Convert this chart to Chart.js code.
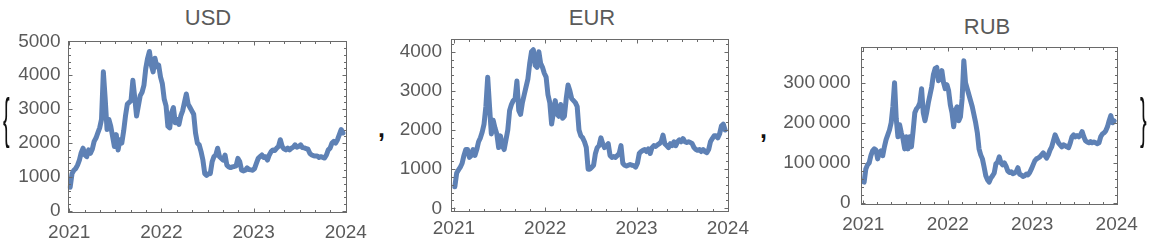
<!DOCTYPE html>
<html><head><meta charset="utf-8">
<script src="https://cdn.jsdelivr.net/npm/chart.js@4.4.1/dist/chart.umd.min.js"></script>
<style>
html,body{margin:0;padding:0;background:#fff;}
body{width:1156px;height:252px;overflow:hidden;position:relative;font-family:"Liberation Sans",Arial,sans-serif;}
canvas{position:absolute;top:0;}
.title{position:absolute;font-size:22px;color:#5a5a5a;transform:translate(-50%,-50%);white-space:nowrap;line-height:1;}
.sym{position:absolute;line-height:1;white-space:nowrap;color:#111;transform-origin:50% 50%;}
</style></head><body>
<div class="title" style="left:208px;top:18px">USD</div>
<div class="title" style="left:592px;top:18px">EUR</div>
<div class="title" style="left:987px;top:27px">RUB</div>
<canvas id="cUSD" width="375" height="252" style="left:0px;width:375px;height:252px"></canvas>
<canvas id="cEUR" width="370" height="252" style="left:385px;width:370px;height:252px"></canvas>
<canvas id="cRUB" width="386" height="252" style="left:770px;width:386px;height:252px"></canvas>
<div class="sym" style="left:3px;top:107px;font-size:20px;transform:scale(1,2.8)">{</div>
<div class="sym" style="left:378px;top:116px;font-size:25px;font-weight:bold">,</div>
<div class="sym" style="left:760px;top:117px;font-size:25px;font-weight:bold">,</div>
<div class="sym" style="left:1140px;top:107px;font-size:20px;transform:scale(1,2.8)">}</div>
<script>
// ---- data (decimal years, ~weekly) ----
const dates = [
2021.01,2021.03,2021.05,2021.07,2021.09,2021.11,2021.13,2021.15,2021.17,2021.19,
2021.21,2021.23,2021.25,2021.27,2021.29,2021.31,2021.33,2021.35,2021.37,2021.39,
2021.41,2021.43,2021.45,2021.47,2021.49,2021.51,2021.53,2021.55,2021.57,2021.59,
2021.61,2021.63,2021.65,2021.67,2021.69,2021.71,2021.73,2021.75,2021.77,2021.79,
2021.81,2021.83,2021.85,2021.87,2021.89,2021.91,2021.93,2021.95,2021.97,2021.99,
2022.01,2022.03,2022.05,2022.07,2022.09,2022.11,2022.13,2022.15,2022.17,2022.19,
2022.21,2022.23,2022.25,2022.27,2022.29,2022.31,2022.33,2022.35,2022.37,2022.39,
2022.41,2022.43,2022.45,2022.47,2022.49,2022.51,2022.53,2022.55,2022.57,2022.59,
2022.61,2022.63,2022.65,2022.67,2022.69,2022.71,2022.73,2022.75,2022.77,2022.79,
2022.81,2022.83,2022.85,2022.87,2022.89,2022.91,2022.93,2022.95,2022.97,2022.99,
2023.01,2023.03,2023.05,2023.07,2023.09,2023.11,2023.13,2023.15,2023.17,2023.19,
2023.21,2023.23,2023.25,2023.27,2023.29,2023.31,2023.33,2023.35,2023.37,2023.39,
2023.41,2023.43,2023.45,2023.47,2023.49,2023.51,2023.53,2023.55,2023.57,2023.59,
2023.61,2023.63,2023.65,2023.67,2023.69,2023.71,2023.73,2023.75,2023.77,2023.79,
2023.81,2023.83,2023.85,2023.87,2023.89,2023.91,2023.93,2023.95,2023.97];

const usdValues = [
700,1100,1200,1250,1350,1500,1720,1850,1650,1600,
1800,1700,1820,2050,2150,2300,2450,2700,4100,3300,
2400,2700,2500,2200,1900,2250,1800,2100,2000,2350,
2800,3150,3200,3250,3850,3350,2800,3100,3400,3500,
3700,4200,4500,4700,4300,4100,4500,4250,4300,3950,
3750,3300,3100,2500,2450,2900,3050,2600,2700,2550,
2800,2950,3200,3450,3150,3050,2950,2850,2300,2000,
1950,1750,1500,1100,1050,1100,1100,1450,1600,1650,
1850,1600,1550,1500,1650,1350,1300,1280,1300,1310,
1330,1550,1450,1200,1180,1200,1270,1220,1210,1200,
1250,1400,1550,1600,1650,1580,1600,1500,1650,1750,
1800,1780,1850,1900,2100,1900,1830,1800,1850,1800,
1850,1880,1950,1880,1900,1950,1870,1860,1840,1820,
1700,1650,1630,1620,1620,1580,1600,1580,1560,1650,
1800,1850,2000,2050,2000,2100,2250,2400,2300];

const eurValues = [
550,900,980,1050,1150,1350,1500,1500,1300,1350,
1500,1350,1500,1700,1800,1950,2150,2600,3350,2600,
1900,2250,2050,1900,1550,1850,1600,1500,1750,2000,
2500,2650,2750,2800,3250,2500,2400,2700,2900,3100,
3300,3700,4000,4050,3650,3600,4000,3700,3600,3450,
3350,2900,2700,2150,2450,2750,2400,2350,2650,2300,
2350,2800,3150,3000,2800,2750,2700,2600,2000,1850,
1800,1700,1550,1000,1000,1050,1100,1400,1550,1600,
1800,1650,1550,1600,1650,1350,1300,1320,1300,1350,
1400,1600,1150,1100,1080,1100,1120,1100,1090,1050,
1150,1400,1450,1480,1500,1450,1520,1400,1550,1600,
1580,1620,1650,1700,1870,1650,1600,1550,1650,1600,
1700,1600,1700,1750,1700,1780,1700,1680,1700,1680,
1650,1550,1500,1480,1500,1450,1500,1450,1420,1500,
1700,1780,1850,1850,1800,1900,2100,2150,2000];

const rubValues = [
52000,85000,95000,100000,118000,130000,135000,132000,110000,125000,
130000,118000,140000,158000,170000,182000,200000,240000,300000,210000,
165000,195000,175000,160000,135000,165000,135000,165000,140000,180000,
225000,235000,240000,250000,285000,225000,205000,225000,250000,270000,
290000,320000,335000,338000,305000,310000,330000,300000,285000,295000,
280000,245000,225000,190000,230000,240000,205000,215000,260000,355000,
300000,285000,270000,255000,240000,220000,200000,175000,135000,120000,
110000,90000,68000,58000,52000,62000,68000,75000,98000,102000,
115000,100000,95000,100000,92000,80000,76000,78000,73000,75000,
78000,88000,72000,70000,66000,68000,72000,70000,76000,85000,
95000,105000,110000,112000,115000,120000,125000,118000,112000,120000,
132000,140000,155000,170000,160000,150000,145000,140000,145000,143000,
140000,138000,150000,165000,170000,165000,168000,165000,170000,178000,
165000,155000,152000,150000,153000,150000,152000,150000,148000,150000,
165000,172000,175000,180000,190000,205000,218000,200000,205000];

// ---- tick labels ----
const xTicks = [2021, 2022, 2023, 2024];
const usdYTicks = [0, 1000, 2000, 3000, 4000, 5000];
const usdYLabels = ["0", "1000", "2000", "3000", "4000", "5000"];
const eurYTicks = [0, 1000, 2000, 3000, 4000];
const eurYLabels = ["0", "1000", "2000", "3000", "4000"];
const rubYTicks = [0, 100000, 200000, 300000];
const rubYLabels = ["0", "100\u2009000", "200\u2009000", "300\u2009000"];

const LINE = '#5E81B5';
const TXT = '#5a5a5a';
const FONT = {family: '"Liberation Sans", Arial, sans-serif', size: 19};

const frameTicks = {
  id: 'frameTicks',
  afterDatasetsDraw(chart, args, o) {
    const {ctx, chartArea: a, scales: {x, y}} = chart;
    const L = Math.round(a.left) + 0.5, R = Math.round(a.right) - 0.5;
    const T = Math.round(a.top) + 0.5, B = Math.round(a.bottom) - 0.5;
    ctx.save();
    ctx.strokeStyle = '#6a6a6a';
    ctx.lineWidth = 1;
    ctx.beginPath();
    for (let i = -12; i <= 40; i++) {
      const v = 2021 + i / 6;
      if (v < x.min || v > x.max) continue;
      const px = Math.round(x.getPixelForValue(v)) + 0.5;
      const len = (i % 6 === 0) ? 4 : 2.5;
      ctx.moveTo(px, B); ctx.lineTo(px, B - len);
      ctx.moveTo(px, T); ctx.lineTo(px, T + len);
    }
    for (let i = 0; i <= 60; i++) {
      const v = i * o.yMinor;
      if (v < y.min || v > y.max) continue;
      const py = Math.round(y.getPixelForValue(v)) + 0.5;
      const len = (i % 5 === 0) ? 4 : 2.5;
      ctx.moveTo(L, py); ctx.lineTo(L + len, py);
      ctx.moveTo(R, py); ctx.lineTo(R - len, py);
    }
    ctx.stroke();
    ctx.strokeRect(L, T, R - L, B - T);
    ctx.restore();
  }
};

function makeChart(id, values, yTicks, yLabels, c) {
  return new Chart(document.getElementById(id), {
    type: 'line',
    data: {
      datasets: [{
        data: dates.map((d, i) => ({x: d, y: values[i]})),
        borderColor: LINE, borderWidth: 5, pointRadius: 0, tension: 0,
        borderJoinStyle: 'round', borderCapStyle: 'round', fill: false
      }]
    },
    options: {
      responsive: false, animation: false, devicePixelRatio: 1,
      layout: {padding: {top: c.top, right: c.padR, left: 0, bottom: 0}},
      plugins: {legend: {display: false}, tooltip: {enabled: false}, title: {display: false},
                frameTicks: {yMinor: c.yMinor}},
      scales: {
        x: {
          type: 'linear', min: c.xmin, max: c.xmax,
          grid: {display: false, drawTicks: false}, border: {display: false},
          afterBuildTicks: s => { s.ticks = xTicks.map(v => ({value: v})); },
          afterFit: s => { s.height = c.xh; },
          ticks: {callback: v => String(v), font: FONT, color: TXT, padding: c.xpad,
                  maxRotation: 0, autoSkip: false}
        },
        y: {
          type: 'linear', min: c.ymin, max: c.ymax,
          grid: {display: false, drawTicks: false}, border: {display: false},
          afterBuildTicks: s => { s.ticks = yTicks.map(v => ({value: v})); },
          afterFit: s => { s.width = c.yw; },
          ticks: {callback: (v, i) => yLabels[i], font: FONT, color: TXT, padding: c.ypad, autoSkip: false}
        }
      }
    },
    plugins: [frameTicks]
  });
}

makeChart('cUSD', usdValues, usdYTicks, usdYLabels,
  {top: 41, padR: 25, xh: 39, yw: 67.5, xmin: 2020.981, xmax: 2024.011, ymin: -60, ymax: 5010,
   yMinor: 200, xpad: 8, ypad: 7});
makeChart('cEUR', eurValues, eurYTicks, eurYLabels,
  {top: 39, padR: 21, xh: 40.3, yw: 66, xmin: 2020.968, xmax: 2024.008, ymin: -87, ymax: 4324,
   yMinor: 200, xpad: 6, ypad: 9});
makeChart('cRUB', rubValues, rubYTicks, rubYLabels,
  {top: 47, padR: 38.5, xh: 47, yw: 90.5, xmin: 2020.967, xmax: 2024.009, ymin: -5000, ymax: 389000,
   yMinor: 20000, xpad: 8, ypad: 10});
</script>
</body></html>
